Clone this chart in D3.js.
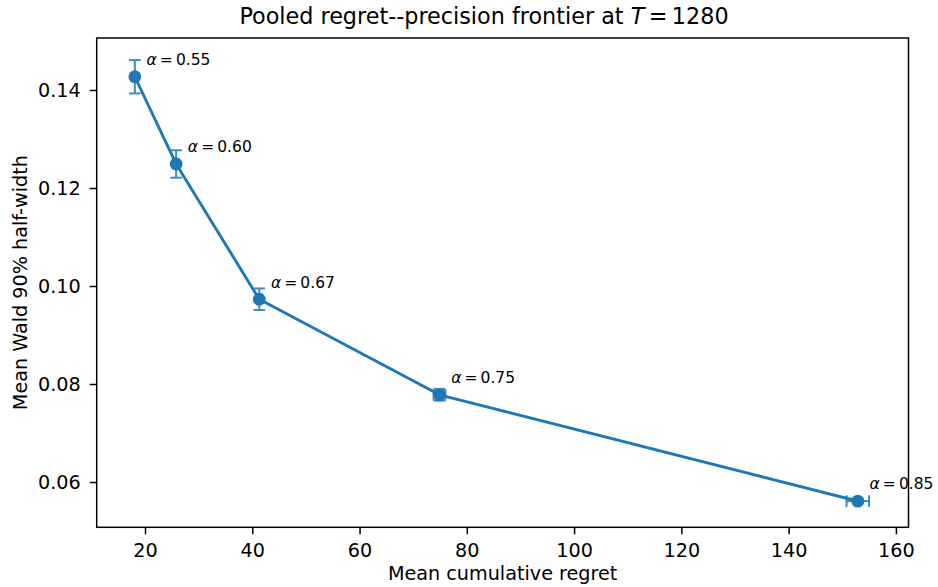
<!DOCTYPE html>
<html>
<head>
<meta charset="utf-8">
<script src="https://cdn.jsdelivr.net/npm/d3@7"></script>
<style>
  html, body { margin: 0; padding: 0; background: #fff; }
  svg { display: block; font-family: "DejaVu Sans", sans-serif; }
</style>
</head>
<body>
<svg id="chart" width="938" height="587"></svg>
<script>
// ---- data ----
const alphaLabels = ["0.55", "0.60", "0.67", "0.75", "0.85"];
const meanRegret = [18.1, 25.8, 41.3, 74.9, 152.9];
const regretErr = [0.2, 0.3, 0.4, 1.1, 2.1];
const meanHalfWidth = [0.1427, 0.1249, 0.0973, 0.0778, 0.0561];
const halfWidthErr = [0.0034, 0.0028, 0.0022, 0.0012, 0.0004];
const xTicks = [20, 40, 60, 80, 100, 120, 140, 160];
const yTicks = [0.06, 0.08, 0.10, 0.12, 0.14];
const xDomain = [10.99, 162.35];
const yDomain = [0.05076, 0.15061];

const titleText = "Pooled regret--precision frontier at ";
const xLabel = "Mean cumulative regret";
const yLabel = "Mean Wald 90% half-width";

// ---- layout ----
const color = "#1f77b4";
const plotL = 96.7, plotR = 908.5, plotT = 38, plotB = 527.3;

const svg = d3.select("#chart");
const x = d3.scaleLinear().domain(xDomain).range([plotL, plotR]);
const y = d3.scaleLinear().domain(yDomain).range([plotB, plotT]);

const pts = meanRegret.map((r, i) => ({
  x: r, y: meanHalfWidth[i], xe: regretErr[i], ye: halfWidthErr[i], a: alphaLabels[i]
}));

// axes
const fs = 19.2;
const xAxis = svg.append("g").attr("transform", `translate(0,${plotB})`)
  .call(d3.axisBottom(x).tickValues(xTicks).tickFormat(d3.format("d")).tickSize(7).tickPadding(9).tickSizeOuter(0));
const yAxis = svg.append("g").attr("transform", `translate(${plotL},0)`)
  .call(d3.axisLeft(y).tickValues(yTicks).tickFormat(d3.format(".2f")).tickSize(7).tickPadding(9).tickSizeOuter(0));
[xAxis, yAxis].forEach(g => {
  g.select(".domain").remove();
  g.selectAll(".tick line").attr("stroke", "#000").attr("stroke-width", 1.5);
  g.selectAll(".tick text").attr("font-size", fs).attr("font-family", "DejaVu Sans").attr("fill", "#000");
});

// spines
svg.append("rect")
  .attr("x", plotL).attr("y", plotT)
  .attr("width", plotR - plotL).attr("height", plotB - plotT)
  .attr("fill", "none").attr("stroke", "#000").attr("stroke-width", 1.5);

// error bars
const eb = svg.append("g").attr("stroke", color).attr("stroke-width", 2).attr("opacity", 0.85);
const cap = 5.8;
pts.forEach(p => {
  const cx = x(p.x), cy = y(p.y);
  const y0 = y(p.y - p.ye), y1 = y(p.y + p.ye);
  const x0 = x(p.x - p.xe), x1 = x(p.x + p.xe);
  eb.append("line").attr("x1", cx).attr("x2", cx).attr("y1", y0).attr("y2", y1);
  eb.append("line").attr("x1", cx - cap).attr("x2", cx + cap).attr("y1", y0).attr("y2", y0);
  eb.append("line").attr("x1", cx - cap).attr("x2", cx + cap).attr("y1", y1).attr("y2", y1);
  eb.append("line").attr("x1", x0).attr("x2", x1).attr("y1", cy).attr("y2", cy);
  eb.append("line").attr("x1", x0).attr("x2", x0).attr("y1", cy - cap).attr("y2", cy + cap);
  eb.append("line").attr("x1", x1).attr("x2", x1).attr("y1", cy - cap).attr("y2", cy + cap);
});

// line
svg.append("path").datum(pts)
  .attr("d", d3.line().x(d => x(d.x)).y(d => y(d.y)))
  .attr("fill", "none").attr("stroke", color).attr("stroke-width", 2.9)
  .attr("stroke-linejoin", "round").attr("stroke-linecap", "square");

// markers
svg.append("g").selectAll("circle").data(pts).join("circle")
  .attr("cx", d => x(d.x)).attr("cy", d => y(d.y)).attr("r", 6.4)
  .attr("fill", color);

// annotations
const ann = svg.append("g").attr("font-size", 15.5).attr("fill", "#000");
pts.forEach(p => {
  const t = ann.append("text").attr("x", x(p.x) + 11.7).attr("y", y(p.y) - 11.7);
  t.append("tspan").attr("font-style", "italic").attr("font-family", "DejaVu Sans").text("α");
  t.append("tspan").text("\u2009=\u2009" + p.a);
});

// title
const title = svg.append("text").attr("x", 484).attr("y", 23.5)
  .attr("text-anchor", "middle").attr("font-size", 22.3).attr("fill", "#000");
title.append("tspan").text(titleText);
title.append("tspan").attr("font-style", "italic").text("T");
title.append("tspan").text("\u2009=\u20091280");

// axis labels
svg.append("text").attr("x", (plotL + plotR) / 2).attr("y", 580)
  .attr("text-anchor", "middle").attr("font-size", fs).attr("fill", "#000").text(xLabel);
svg.append("text").attr("transform", `translate(26.5,${(plotT + plotB) / 2}) rotate(-90)`)
  .attr("text-anchor", "middle").attr("font-size", fs).attr("fill", "#000").text(yLabel);
</script>
</body>
</html>
